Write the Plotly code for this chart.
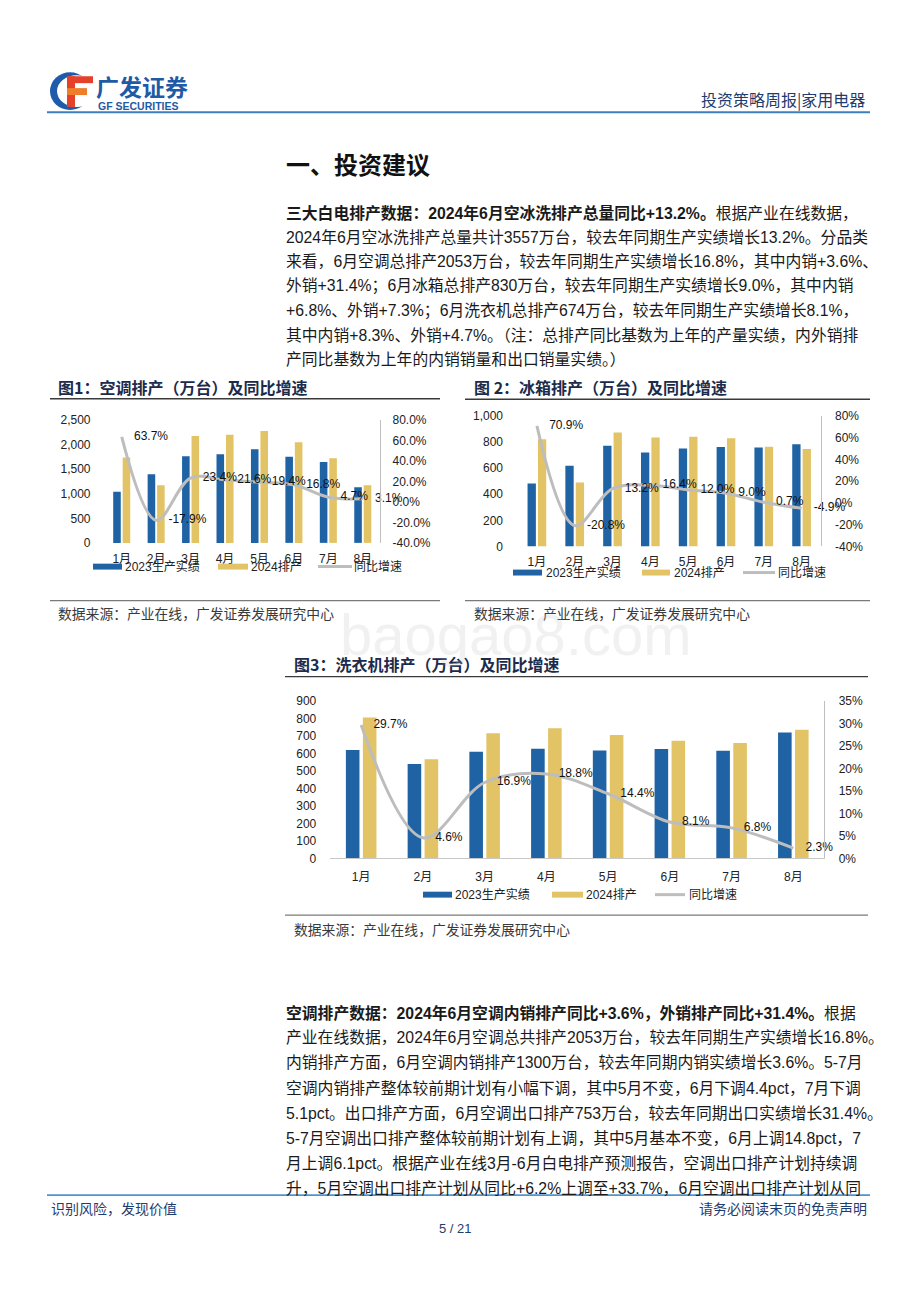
import plotly.graph_objects as go

W, H = 920, 1302


def X(p):
    return p / W


def Y(p):
    return 1 - p / H


# ---------------- data ----------------
months = ["1月", "2月", "3月", "4月", "5月", "6月", "7月", "8月"]
series_names = ["2023生产实绩", "2024排产", "同比增速"]

ac_2023 = [1040, 1400, 1767, 1808, 1908, 1754, 1646, 1136]
ac_2024 = [1740, 1176, 2177, 2204, 2278, 2053, 1727, 1176]
ac_yoy = [0.637, -0.179, 0.234, 0.216, 0.194, 0.168, 0.047, 0.031]

fr_2023 = [482, 619, 773, 720, 752, 763, 758, 783]
fr_2024 = [823, 490, 874, 836, 841, 830, 765, 747]
fr_yoy = [0.709, -0.208, 0.132, 0.164, 0.120, 0.090, 0.007, -0.049]

wm_2023 = [620, 541, 611, 628, 618, 626, 616, 720]
wm_2024 = [806, 567, 717, 745, 707, 674, 660, 737]
wm_yoy = [0.297, 0.046, 0.169, 0.188, 0.144, 0.081, 0.068, 0.023]

chart_titles = [
    "图1：空调排产（万台）及同比增速",
    "图 2：冰箱排产（万台）及同比增速",
    "图3：洗衣机排产（万台）及同比增速",
]
source_text = "数据来源：产业在线，广发证券发展研究中心"

para1 = [
    "<b>三大白电排产数据：2024年6月空冰洗排产总量同比+13.2%。</b>根据产业在线数据，",
    "2024年6月空冰洗排产总量共计3557万台，较去年同期生产实绩增长13.2%。分品类",
    "来看，6月空调总排产2053万台，较去年同期生产实绩增长16.8%，其中内销+3.6%、",
    "外销+31.4%；6月冰箱总排产830万台，较去年同期生产实绩增长9.0%，其中内销",
    "+6.8%、外销+7.3%；6月洗衣机总排产674万台，较去年同期生产实绩增长8.1%，",
    "其中内销+8.3%、外销+4.7%。（注：总排产同比基数为上年的产量实绩，内外销排",
    "产同比基数为上年的内销销量和出口销量实绩。）",
]
para2 = [
    "<b>空调排产数据：2024年6月空调内销排产同比+3.6%，外销排产同比+31.4%。</b>根据",
    "产业在线数据，2024年6月空调总共排产2053万台，较去年同期生产实绩增长16.8%。",
    "内销排产方面，6月空调内销排产1300万台，较去年同期内销实绩增长3.6%。5-7月",
    "空调内销排产整体较前期计划有小幅下调，其中5月不变，6月下调4.4pct，7月下调",
    "5.1pct。出口排产方面，6月空调出口排产753万台，较去年同期出口实绩增长31.4%。",
    "5-7月空调出口排产整体较前期计划有上调，其中5月基本不变，6月上调14.8pct，7",
    "月上调6.1pct。根据产业在线3月-6月白电排产预测报告，空调出口排产计划持续调",
    "升，5月空调出口排产计划从同比+6.2%上调至+33.7%，6月空调出口排产计划从同",
]

# ---------------- style ----------------
FONT = "Liberation Sans, Arial, Noto Sans CJK SC, sans-serif"
CJK = "Noto Sans CJK SC, Liberation Sans, sans-serif"
BLUE = "#1F63A5"
YELLOW = "#E2C466"
GRAY = "#BDBDBD"
NAVY = "#1F3C6E"
TXT = "#1a1a1a"

fig = go.Figure()
shapes = []
ann = []


def text(x, y, s, size=15.5, color=TXT, xanchor="left", family=FONT, yanchor="middle"):
    ann.append(dict(x=X(x), y=Y(y), xref="paper", yref="paper", text=s, showarrow=False,
                    xanchor=xanchor, yanchor=yanchor, borderpad=0,
                    font=dict(size=size, color=color, family=family)))


def hline(x0, x1, y, color, width):
    shapes.append(dict(type="line", xref="paper", yref="paper", x0=X(x0), x1=X(x1),
                       y0=Y(y), y1=Y(y), line=dict(color=color, width=width)))


def rect(x0, y0, x1, y1, color):
    shapes.append(dict(type="rect", xref="paper", yref="paper", x0=X(x0), x1=X(x1),
                       y0=Y(y1), y1=Y(y0), fillcolor=color, line=dict(width=0)))


def circle(x0, y0, x1, y1, color):
    shapes.append(dict(type="circle", xref="paper", yref="paper", x0=X(x0), x1=X(x1),
                       y0=Y(y1), y1=Y(y0), fillcolor=color, line=dict(width=0)))


def pct_text(vals, dec):
    return [("{:." + str(dec) + "f}%").format(v * 100) for v in vals]


def add_chart(n, v23, v24, yoy):
    xa = "x" if n == 1 else "x%d" % n
    ya = "y" if n == 1 else "y%d" % (2 * n - 1)
    ya2 = "y%d" % (2 * n)
    fig.add_trace(go.Bar(x=months, y=v23, name=series_names[0], marker=dict(color=BLUE, line=dict(width=0)),
                         xaxis=xa, yaxis=ya, showlegend=False, hoverinfo="skip"))
    fig.add_trace(go.Bar(x=months, y=v24, name=series_names[1], marker=dict(color=YELLOW, line=dict(width=0)),
                         xaxis=xa, yaxis=ya, showlegend=False, hoverinfo="skip"))
    fig.add_trace(go.Scatter(x=months, y=yoy, name=series_names[2], mode="lines+markers+text",
                             line=dict(color=GRAY, width=3, shape="spline", smoothing=1),
                             marker=dict(size=18, color="rgba(0,0,0,0)"),
                             text=pct_text(yoy, 1), textposition="middle right",
                             textfont=dict(size=12, color="#111", family=FONT),
                             cliponaxis=False, xaxis=xa, yaxis=ya2, showlegend=False, hoverinfo="skip"))


add_chart(1, ac_2023, ac_2024, ac_yoy)
add_chart(2, fr_2023, fr_2024, fr_yoy)
add_chart(3, wm_2023, wm_2024, wm_yoy)

tickfont = dict(size=12, color="#222", family=FONT)


def xaxis(x0, x1, anchor, baseline=False):
    return dict(domain=[X(x0), X(x1)], anchor=anchor, type="category", range=[-0.5, 7.5],
                showgrid=False, zeroline=False, ticks="", showline=baseline, linecolor="#C8C8C8",
                linewidth=1.2, tickfont=tickfont, ticklabelstandoff=7, fixedrange=True)


def yleft(ytop, ybot, anchor, rng, dtick, fmt, standoff):
    return dict(domain=[Y(ybot), Y(ytop)], anchor=anchor, range=rng, dtick=dtick, tickformat=fmt,
                showgrid=False, zeroline=False, showline=False, ticks="", tickfont=tickfont,
                ticklabelstandoff=standoff, fixedrange=True)


def yright(overlay, anchor, rng, vals, dec, standoff):
    return dict(overlaying=overlay, anchor=anchor, side="right", range=rng, tickmode="array",
                tickvals=vals, ticktext=pct_text(vals, dec), showgrid=False, zeroline=False,
                showline=True, linecolor="#BFBFBF", linewidth=1.2, ticks="", tickfont=tickfont,
                ticklabelstandoff=standoff, fixedrange=True)


ac_right_ticks = [-0.4, -0.2, 0.0, 0.2, 0.4, 0.6, 0.8]
fr_right_ticks = [-0.4, -0.2, 0.0, 0.2, 0.4, 0.6, 0.8]
wm_right_ticks = [0.0, 0.05, 0.10, 0.15, 0.20, 0.25, 0.30, 0.35]

fig.update_layout(
    xaxis=xaxis(104.5, 380, "y"),
    yaxis=yleft(417.7, 541.7, "x", [0, 2500], 500, ",d", 13),
    yaxis2=yright("y", "x", [-0.4, 0.8], ac_right_ticks, 1, 9),
    xaxis2=xaxis(518, 820.5, "y3"),
    yaxis3=yleft(413.5, 545.3, "x2", [0, 1000], 200, ",d", 14),
    yaxis4=yright("y3", "x2", [-0.4, 0.8], fr_right_ticks, 0, 11),
    xaxis3=xaxis(330.3, 824.2, "y5", baseline=True),
    yaxis5=yleft(701.7, 860.7, "x3", [0, 900], 100, "d", 13),
    yaxis6=yright("y5", "x3", [0, 0.35], wm_right_ticks, 0, 11),
)

# ---------------- header ----------------
circle(50, 66, 90, 104, "#1E5BAA")
circle(57, 69, 96, 101, "white")
rect(67, 70, 93, 77, "#E5402A")
rect(67, 70, 75, 101, "#E5402A")
rect(67, 82, 87, 89, "#F07D2A")
text(95, 79.5, "<b>广发证券</b>", size=23, color="#1F5AA6", family=CJK)
text(97, 100.5, "<b>GF SECURITIES</b>", size=10.5, color="#1F5AA6", family=FONT)
text(866, 93, "投资策略周报|家用电器", size=16, color=NAVY, xanchor="right", family=CJK)
hline(47, 870, 106.5, "#3C7FC1", 2)

text(285, 158, "<b>一、投资建议</b>", size=24, color="#111", family=CJK)

for i, line in enumerate(para1):
    text(285, 208 + 24.8 * i, line, size=15.8, family=FONT)

# ---------------- chart decorations ----------------
blocks = [
    dict(title=(57, 384), top=(50, 440, 396), bot=(50, 440, 600), src=(57, 613)),
    dict(title=(473, 384), top=(465, 870, 396.5), bot=(465, 870, 600), src=(473, 613)),
    dict(title=(293, 664), top=(285, 868, 677), bot=(285, 868, 918), src=(293, 932)),
]
for b, t in zip(blocks, chart_titles):
    text(b["title"][0], b["title"][1], "<b>" + t + "</b>", size=16, color="#1C2B4B", family=CJK)
    hline(b["top"][0], b["top"][1], b["top"][2], "#3A3A3A", 1.3)
    hline(b["bot"][0], b["bot"][1], b["bot"][2], "#7A7A7A", 1.3)
    text(b["src"][0], b["src"][1], source_text, size=13.8, color="#3A3A3A", family=CJK)

# manual legends: (blue x0,x1, text x, yellow x0,x1, text x, line x0,x1, text x, y)
legends = [
    (93, 122, 124, 218, 248, 250, 318, 352, 353, 565.7),
    (513, 542, 545, 642, 670, 673, 743, 775, 777, 571.7),
    (423, 452, 454, 552, 583, 585, 655, 685, 688, 897.3),
]
for bx0, bx1, bt, yx0, yx1, yt, lx0, lx1, lt, ly in legends:
    rect(bx0, ly - 3, bx1, ly + 3, BLUE)
    text(bt, ly, series_names[0], size=12, color="#222", family=FONT)
    rect(yx0, ly - 3, yx1, ly + 3, YELLOW)
    text(yt, ly, series_names[1], size=12, color="#222", family=FONT)
    hline(lx0, lx1, ly, GRAY, 3)
    text(lt, ly, series_names[2], size=12, color="#222", family=FONT)

# faint watermark
text(515, 634, "baogao8.com", size=58, color="rgba(190,190,190,0.22)", xanchor="center", family=FONT)

# ---------------- second paragraph ----------------
for i, line in enumerate(para2):
    text(285, 1016.7 + 25.35 * i, line, size=15.8, family=FONT)

# ---------------- footer ----------------
hline(47, 870, 1201, "#4A95D3", 1.8)
text(50, 1214, "识别风险，发现价值", size=14, color=NAVY, family=CJK)
text(868, 1214, "请务必阅读末页的免责声明", size=14, color=NAVY, xanchor="right", family=CJK)
text(455, 1235, "5 / 21", size=13, color=NAVY, xanchor="center", family=FONT)

fig.update_layout(
    width=W, height=H, margin=dict(l=0, r=0, t=0, b=0, pad=0),
    paper_bgcolor="white", plot_bgcolor="white",
    barmode="group", bargap=0.45, bargroupgap=0.2,
    showlegend=False, shapes=shapes, annotations=ann,
    font=dict(family=FONT, color="#222"),
)

fig.write_html(
    "out.html",
    config=dict(displayModeBar=False),
    post_script="document.body.style.margin='0';document.body.style.overflow='hidden';"
                "document.documentElement.style.overflow='hidden';",
)
